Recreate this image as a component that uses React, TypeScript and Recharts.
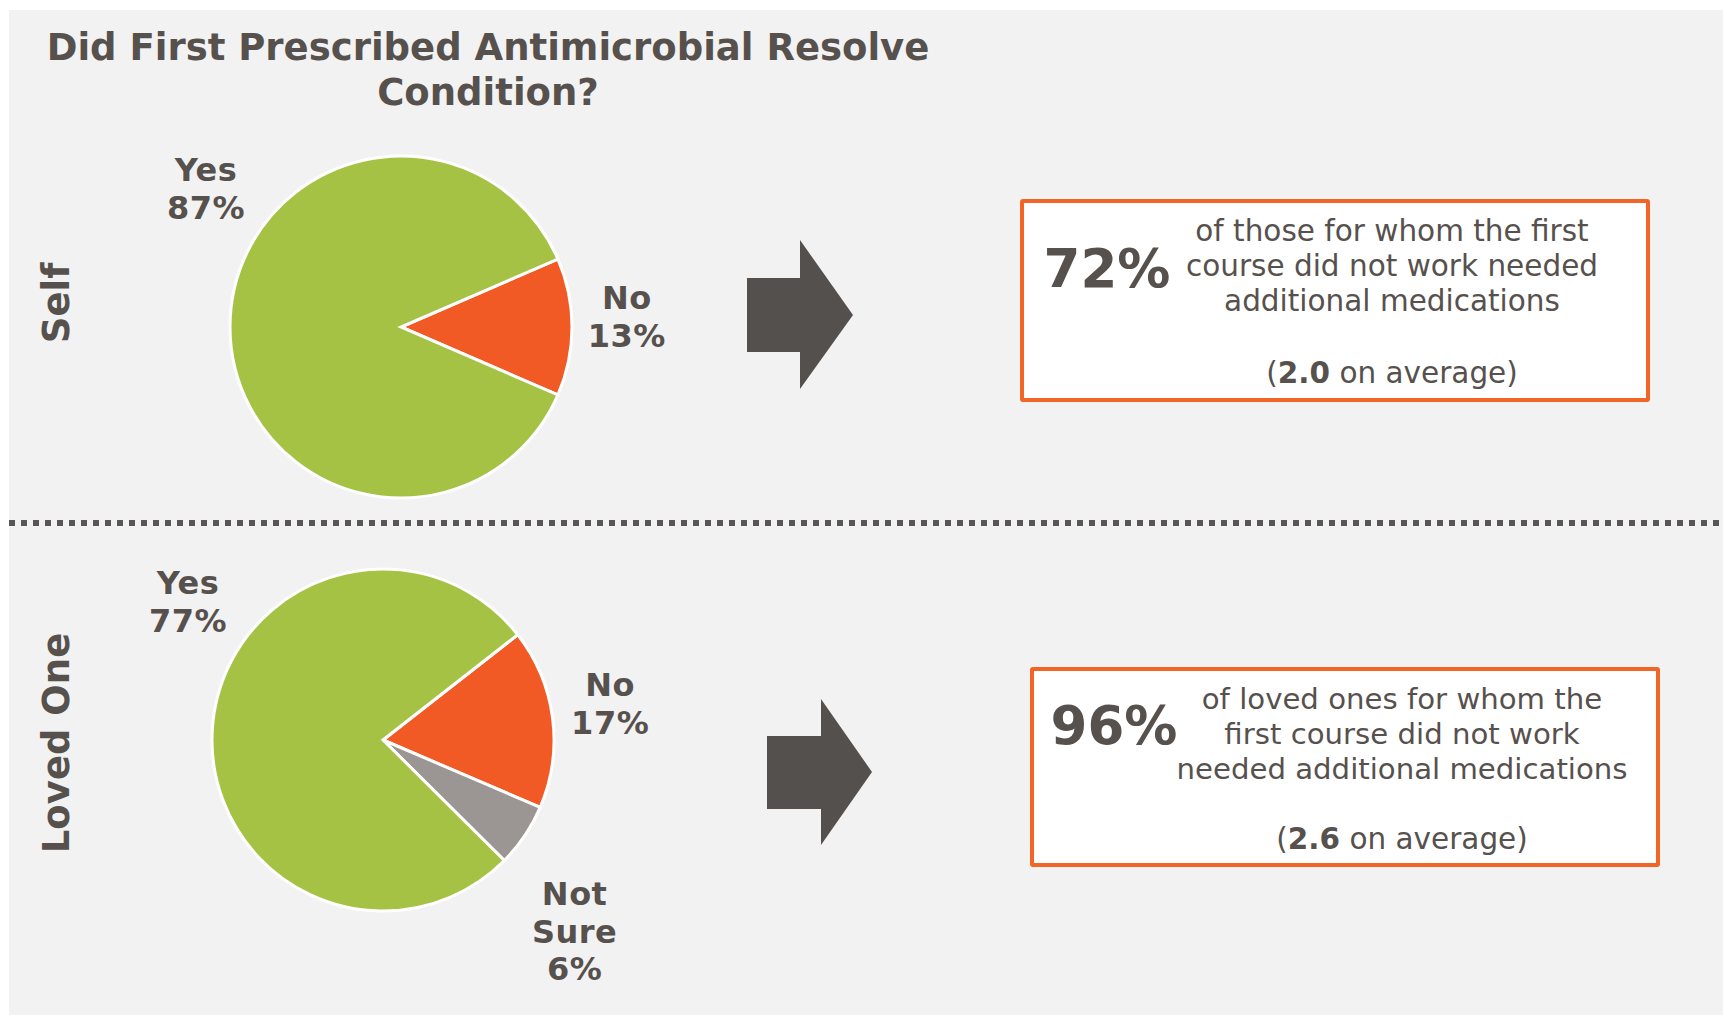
import { PieChart, Pie, Cell } from 'recharts';

const W = 1723;
const H = 1019;

// Self respondents
const selfNames = ['No', 'Yes'];
const selfValues = [13, 87];

// Loved one respondents
const lovedNames = ['No', 'Not Sure', 'Yes'];
const lovedValues = [17, 6, 77];

const selfCallout = ['of those for whom the first', 'course did not work needed', 'additional medications'];
const selfCalloutPct = '72%';
const selfAvg = '2.0';

const lovedCallout = ['of loved ones for whom the', 'first course did not work', 'needed additional medications'];
const lovedCalloutPct = '96%';
const lovedAvg = '2.6';

const title = ['Did First Prescribed Antimicrobial Resolve', 'Condition?'];

const COLORS: Record<string, string> = {
  Yes: '#a6c244',
  No: '#f15a24',
  'Not Sure': '#9b9693',
};
const TEXT = '#57514e';
const FONT = '"DejaVu Sans", Verdana, sans-serif';

const selfData = selfNames.map((name, i) => ({ name, value: selfValues[i] }));
const lovedData = lovedNames.map((name, i) => ({ name, value: lovedValues[i] }));

// where each slice label sits (angle override in degrees, distance from centre)
type Placement = Record<string, { angle?: number; r: number }>;
const selfLabelPos: Placement = {
  Yes: { angle: 144.7, r: 239 },
  No: { angle: 2.5, r: 226 },
};
const lovedLabelPos: Placement = {
  Yes: { angle: 144.7, r: 239 },
  No: { angle: 9, r: 230 },
  'Not Sure': { angle: -45, r: 271 },
};

const RAD = Math.PI / 180;
const LINE = 37.5;

function makeLabel(pos: Placement) {
  return (props: any) => {
    const { cx, cy, midAngle, name, value } = props;
    const p = pos[name] || { r: 220 };
    const a = (p.angle ?? midAngle) * RAD;
    const x = cx + p.r * Math.cos(a);
    const y = cy - p.r * Math.sin(a);
    const lines = [...String(name).split(' '), `${value}%`];
    const n = lines.length;
    return (
      <text
        x={x}
        y={y}
        textAnchor="middle"
        fill={TEXT}
        fontFamily={FONT}
        fontWeight="bold"
        fontSize={32}
        letterSpacing={0.5}
      >
        {lines.map((ln, i) => (
          <tspan key={i} x={x} y={y + (i - (n - 1) / 2) * LINE + 11}>
            {ln}
          </tspan>
        ))}
      </text>
    );
  };
}

function Callout({
  left,
  top,
  width,
  height,
}: {
  left: number;
  top: number;
  width: number;
  height: number;
}) {
  return (
    <div
      style={{
        position: 'absolute',
        left,
        top,
        width: width - 8,
        height: height - 8,
        border: '4px solid #f26526',
        borderRadius: 3,
        background: '#fff',
      }}
    />
  );
}

export default function App() {
  return (
    <div
      style={{
        position: 'absolute',
        left: 0,
        top: 0,
        width: W,
        height: H,
        background: '#fff',
        overflow: 'hidden',
        fontFamily: FONT,
      }}
    >
      <div
        style={{
          position: 'absolute',
          left: 9,
          top: 10,
          width: W - 9,
          height: 1005,
          background: '#f2f2f2',
        }}
      />
      <Callout left={1020} top={199} width={630} height={203} />
      <Callout left={1030} top={667} width={630} height={200} />

      <div style={{ position: 'absolute', left: 0, top: 0 }}>
        <PieChart width={W} height={H} margin={{ top: 0, right: 0, bottom: 0, left: 0 }}>
          <Pie
            data={selfData}
            dataKey="value"
            nameKey="name"
            cx={401}
            cy={327}
            outerRadius={171}
            startAngle={23.4}
            endAngle={-336.6}
            stroke="#fff"
            strokeWidth={3}
            labelLine={false}
            label={makeLabel(selfLabelPos)}
            isAnimationActive={false}
          >
            {selfData.map((d) => (
              <Cell key={d.name} fill={COLORS[d.name]} />
            ))}
          </Pie>
          <Pie
            data={lovedData}
            dataKey="value"
            nameKey="name"
            cx={383}
            cy={740}
            outerRadius={171}
            startAngle={38}
            endAngle={-322}
            stroke="#fff"
            strokeWidth={3}
            labelLine={false}
            label={makeLabel(lovedLabelPos)}
            isAnimationActive={false}
          >
            {lovedData.map((d) => (
              <Cell key={d.name} fill={COLORS[d.name]} />
            ))}
          </Pie>
        </PieChart>
      </div>

      <svg
        width={W}
        height={H}
        style={{ position: 'absolute', left: 0, top: 0, pointerEvents: 'none' }}
        fontFamily={FONT}
      >
        {/* title */}
        <text x={488} y={60} textAnchor="middle" fill={TEXT} fontWeight="bold" fontSize={37}>
          {title[0]}
        </text>
        <text x={488} y={105} textAnchor="middle" fill={TEXT} fontWeight="bold" fontSize={37}>
          {title[1]}
        </text>

        {/* row labels */}
        <text
          x={69}
          y={303}
          transform="rotate(-90, 69, 303)"
          textAnchor="middle"
          fill={TEXT}
          fontWeight="bold"
          fontSize={37}
        >
          Self
        </text>
        <text
          x={69}
          y={743}
          transform="rotate(-90, 69, 743)"
          textAnchor="middle"
          fill={TEXT}
          fontWeight="bold"
          fontSize={37}
        >
          Loved One
        </text>

        {/* divider */}
        <line x1={9} y1={523} x2={W} y2={523} stroke="#595655" strokeWidth={6} strokeDasharray="6 6" />

        {/* arrows */}
        <polygon points="747,278 800,278 800,240 853,315 800,389 800,352 747,352" fill="#54504d" />
        <polygon points="767,736 821,736 821,699 872,772 821,845 821,809 767,809" fill="#54504d" />

        {/* callout text: self */}
        <text x={1107} y={287} textAnchor="middle" fill={TEXT} fontWeight="bold" fontSize={53}>
          {selfCalloutPct}
        </text>
        {selfCallout.map((ln, i) => (
          <text key={i} x={1392} y={241 + i * 35} textAnchor="middle" fill={TEXT} fontSize={29.5}>
            {ln}
          </text>
        ))}
        <text x={1392} y={383} textAnchor="middle" fill={TEXT} fontSize={29.5}>
          (<tspan fontWeight="bold">{selfAvg}</tspan> on average)
        </text>

        {/* callout text: loved one */}
        <text x={1114} y={744} textAnchor="middle" fill={TEXT} fontWeight="bold" fontSize={53}>
          {lovedCalloutPct}
        </text>
        {lovedCallout.map((ln, i) => (
          <text key={i} x={1402} y={709 + i * 35} textAnchor="middle" fill={TEXT} fontSize={29.2}>
            {ln}
          </text>
        ))}
        <text x={1402} y={849} textAnchor="middle" fill={TEXT} fontSize={29.5}>
          (<tspan fontWeight="bold">{lovedAvg}</tspan> on average)
        </text>
      </svg>
    </div>
  );
}
